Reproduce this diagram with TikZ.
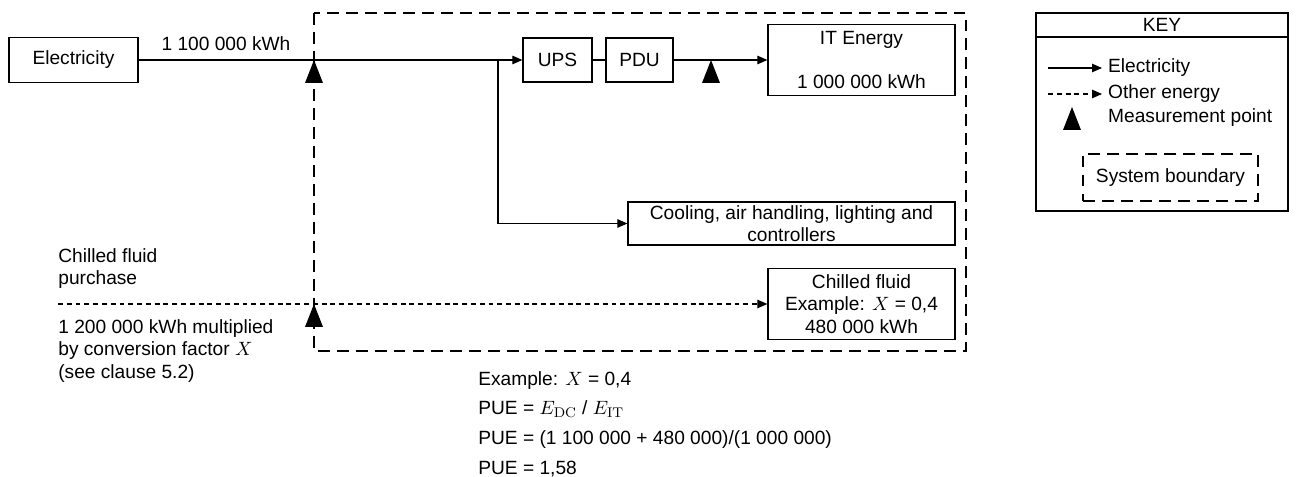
\documentclass[tikz,border=0pt]{standalone}
\usepackage[no-math]{fontspec}
\setmainfont{Liberation Sans}
\usetikzlibrary{arrows.meta}
\newcommand{\mpoint}[1]{\fill (#1) -- ++(0.18,-0.46) -- ++(-0.36,0) -- cycle;}
\tikzset{
  box/.style={draw, line width=.7pt, inner sep=1pt, align=center},
  eline/.style={line width=.6pt, -{Triangle[length=0.2cm,width=0.17cm]}},
  oline/.style={eline, dash pattern=on 2.8pt off 2.2pt},
  boundary/.style={draw, line width=1.4pt, dash pattern=on 6.8pt off 4pt}
}

\begin{document}
\begin{tikzpicture}[font=\fontsize{10.9}{12.9}\selectfont]
  \useasboundingbox (0,0) rectangle (26,-9.54);
  \coordinate (b1) at (6.28,-0.26);
  \coordinate (b2) at (19.32,-7.02);
  \coordinate (m1) at (6.28,-1.20);
  \coordinate (m2) at (14.22,-1.20);
  \coordinate (m3) at (6.28,-6.08);
  \coordinate (br) at (9.96,-1.20);
  \coordinate (src) at (1.16,-6.08);

  % system boundary
  \draw[boundary] (b1) rectangle (b2);

  % boxes
  \node[box, minimum width=2.58cm, minimum height=0.9cm] (elec) at (1.47,-1.20) {Electricity};
  \node[box, minimum width=1.38cm, minimum height=0.88cm] (ups) at (11.15,-1.20) {UPS};
  \node[box, minimum width=1.34cm, minimum height=0.88cm] (pdu) at (12.79,-1.20) {PDU};
  \node[box, minimum width=3.74cm, minimum height=1.42cm] (it) at (17.23,-1.20)
    {IT Energy\\[0.42cm]1 000 000 kWh};
  \node[box, minimum width=6.54cm, minimum height=0.86cm] (cool) at (15.83,-4.47)
    {Cooling, air handling, lighting and\\controllers};
  \node[box, minimum width=3.74cm, minimum height=1.42cm] (chill) at (17.23,-6.08)
    {Chilled fluid\\Example: $X$ = 0,4\\480 000 kWh};
  \node (kwh) at (4.52,-0.88) {1 100 000 kWh};

  % flows
  \draw[eline] (elec) -- (ups);
  \draw[line width=.6pt] (ups) -- (pdu);
  \draw[eline] (pdu) -- (it);
  \draw[eline] (br) |- (cool.west);
  \draw[oline] (src) -- (chill.west);
  \foreach \i in {1,2,3}{\mpoint{m\i}}

  % texts
  \node[anchor=north west, align=left, inner sep=0pt] (purch) at (1.16,-4.96)
    {Chilled fluid\\purchase};
  \node[anchor=north west, align=left, inner sep=0pt] (conv) at (1.16,-6.38)
    {1 200 000 kWh multiplied\\by conversion factor $X$\\(see clause 5.2)};
  \node[anchor=north west, align=left, inner sep=0pt] (pue) at (9.56,-7.42)
    {Example: $X$ = 0,4\\[4pt]
     PUE = $E_{\mathrm{DC}}$ / $E_{\mathrm{IT}}$\\[4pt]
     PUE = (1 100 000 + 480 000)/(1 000 000)\\[4pt]
     PUE = 1,58};

  % key
  \node[box, minimum width=5.04cm, minimum height=3.96cm] (key) at (23.24,-2.24) {};
  \node[box, minimum width=5.04cm, minimum height=0.48cm, anchor=north] (keyhead) at (key.north) {KEY};
  \node[anchor=west] (lgelec) at (22.04,-1.36) {Electricity};
  \node[anchor=west] (lgother) at (22.04,-1.88) {Other energy};
  \node[anchor=west] (lgmeas) at (22.04,-2.36) {Measurement\ point};
  \node[boundary, minimum width=3.5cm, minimum height=0.94cm] (lgsys) at (23.41,-3.55) {System boundary};
  \coordinate (lg1) at (20.96,-1.36);
  \coordinate (lg2) at (20.96,-1.88);
  \coordinate (lg3) at (21.44,-2.14);
  \draw[eline] (lg1) -- (lgelec.west);
  \draw[oline] (lg2) -- (lgother.west);
  \mpoint{lg3}
\end{tikzpicture}
\end{document}
